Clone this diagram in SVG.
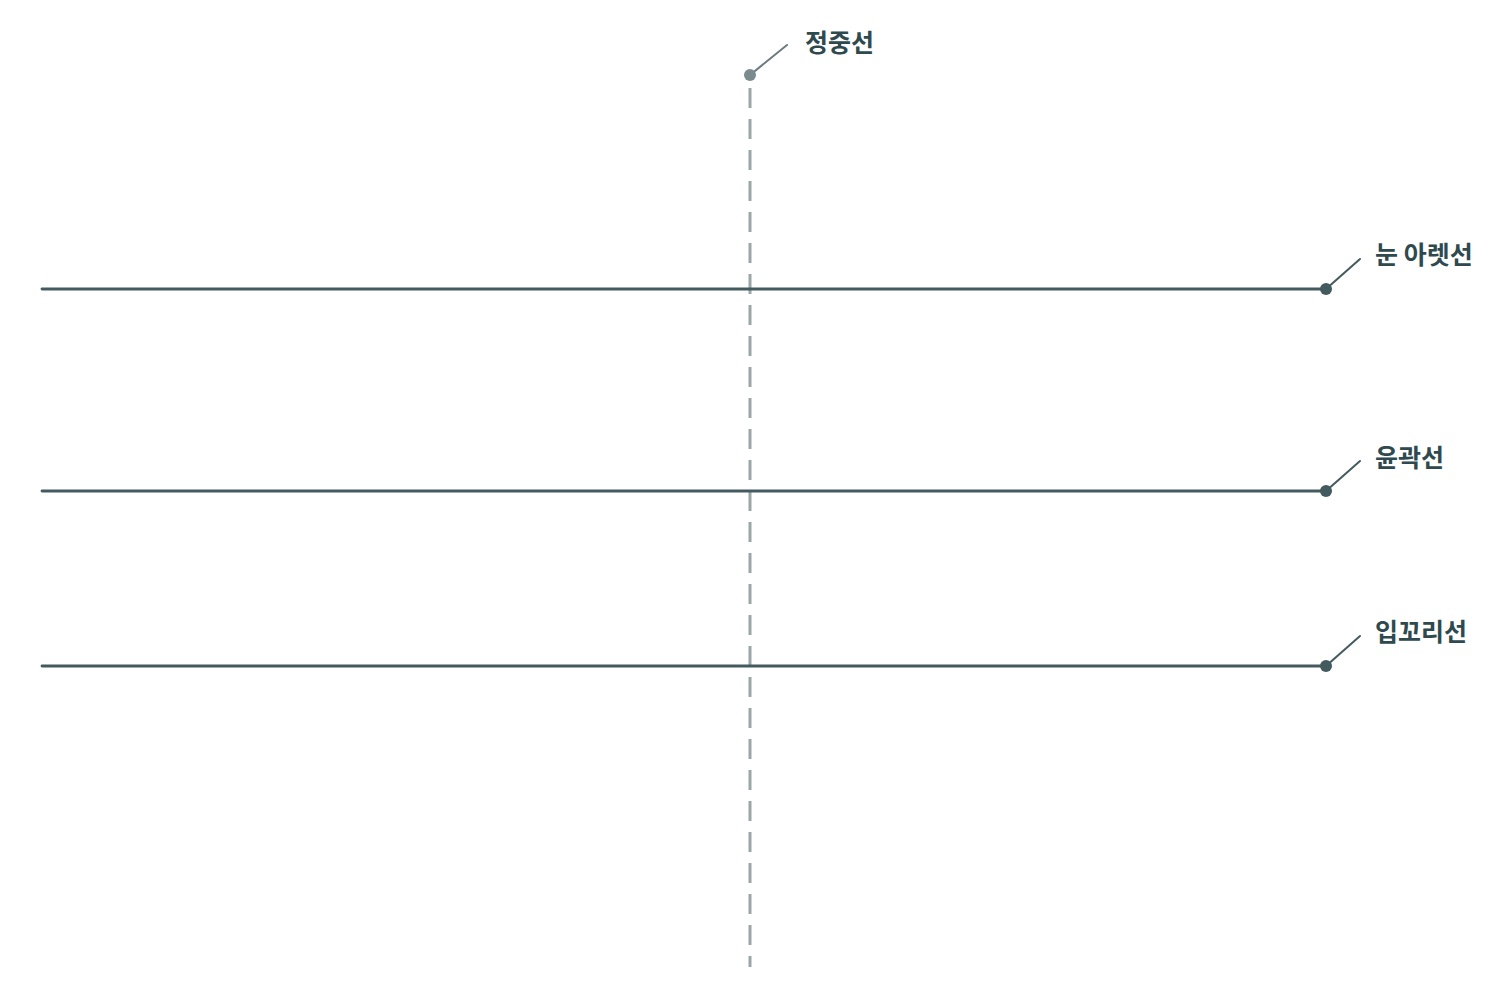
<svg xmlns="http://www.w3.org/2000/svg" width="1500" height="1000" viewBox="0 0 1500 1000">
<style>
.h{stroke:#435a5e;stroke-width:2.8;fill:none;stroke-linecap:round}
.lead{stroke:#435a5e;stroke-width:2;fill:none;stroke-linecap:round}
.dot{fill:#435a5e}
.lbl{font-family:"Noto Sans CJK KR","Noto Sans",sans-serif;font-weight:700;font-size:25px;fill:#2e4a4f}
</style>
<rect width="1500" height="1000" fill="#ffffff"/>
<g id="connectors">
<line x1="750" y1="88" x2="750" y2="967" stroke="#9ca5a7" stroke-width="3" stroke-dasharray="20 11"/>
<line class="h" x1="42" y1="289" x2="1326" y2="289"/>
<line class="h" x1="42" y1="491" x2="1326" y2="491"/>
<line class="h" x1="42" y1="666" x2="1326" y2="666"/>
</g>
<g id="midline">
<line x1="750" y1="75" x2="787" y2="45" stroke="#6c7c80" stroke-width="2" stroke-linecap="round"/>
<circle cx="750" cy="75" r="6" fill="#7b8a8e"/>
<text class="lbl" x="805" y="52">정중선</text>
</g>
<g id="eye">
<line class="lead" x1="1326" y1="289" x2="1360" y2="259"/>
<circle class="dot" cx="1326" cy="289" r="6"/>
<text class="lbl" x="1375" y="264">눈 아렛선</text>
</g>
<g id="contour">
<line class="lead" x1="1326" y1="491" x2="1360" y2="461"/>
<circle class="dot" cx="1326" cy="491" r="6"/>
<text class="lbl" x="1375" y="467">윤곽선</text>
</g>
<g id="mouth">
<line class="lead" x1="1326" y1="666" x2="1360" y2="636"/>
<circle class="dot" cx="1326" cy="666" r="6"/>
<text class="lbl" x="1375" y="641">입꼬리선</text>
</g>
</svg>
